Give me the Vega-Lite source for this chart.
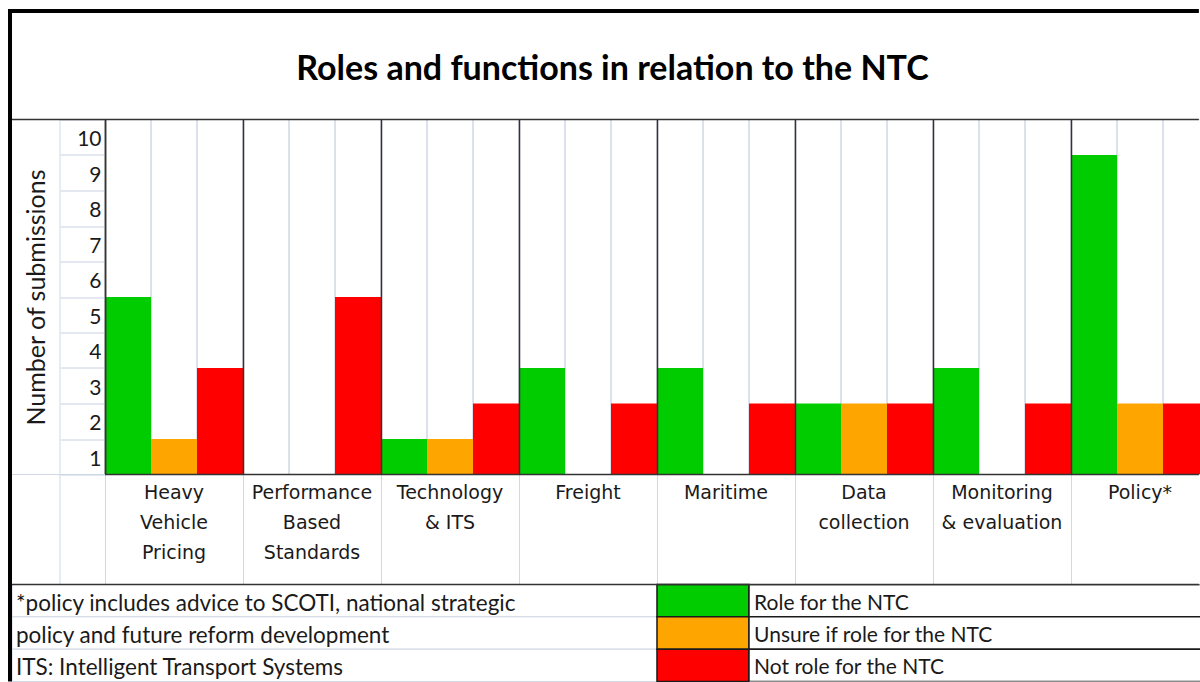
{
  "$schema": "https://vega.github.io/schema/vega-lite/v6.json",
  "padding": {"left": 5, "top": 6.5, "right": 0, "bottom": 0},
  "background": "white",
  "spacing": 110,
  "bounds": "flush",
  "config": {"view": {"stroke": null}, "font": "Lato"},
  "vconcat": [
    {
      "width": 1095,
      "height": 355,
      "title": {
        "text": "Roles and functions in relation to the NTC",
        "anchor": "middle",
        "frame": "group",
        "dx": -40,
        "offset": 5,
        "baseline": "alphabetic",
        "font": "Lato",
        "fontSize": 34,
        "fontWeight": "bold",
        "color": "#000000"
      },
      "data": {
        "values": [
          {"category": "Heavy Vehicle Pricing", "status": "Role for the NTC", "value": 5},
          {"category": "Heavy Vehicle Pricing", "status": "Unsure if role for the NTC", "value": 1},
          {"category": "Heavy Vehicle Pricing", "status": "Not role for the NTC", "value": 3},
          {"category": "Performance Based Standards", "status": "Role for the NTC", "value": 0},
          {"category": "Performance Based Standards", "status": "Unsure if role for the NTC", "value": 0},
          {"category": "Performance Based Standards", "status": "Not role for the NTC", "value": 5},
          {"category": "Technology & ITS", "status": "Role for the NTC", "value": 1},
          {"category": "Technology & ITS", "status": "Unsure if role for the NTC", "value": 1},
          {"category": "Technology & ITS", "status": "Not role for the NTC", "value": 2},
          {"category": "Freight", "status": "Role for the NTC", "value": 3},
          {"category": "Freight", "status": "Unsure if role for the NTC", "value": 0},
          {"category": "Freight", "status": "Not role for the NTC", "value": 2},
          {"category": "Maritime", "status": "Role for the NTC", "value": 3},
          {"category": "Maritime", "status": "Unsure if role for the NTC", "value": 0},
          {"category": "Maritime", "status": "Not role for the NTC", "value": 2},
          {"category": "Data collection", "status": "Role for the NTC", "value": 2},
          {"category": "Data collection", "status": "Unsure if role for the NTC", "value": 2},
          {"category": "Data collection", "status": "Not role for the NTC", "value": 2},
          {"category": "Monitoring & evaluation", "status": "Role for the NTC", "value": 3},
          {"category": "Monitoring & evaluation", "status": "Unsure if role for the NTC", "value": 0},
          {"category": "Monitoring & evaluation", "status": "Not role for the NTC", "value": 2},
          {"category": "Policy*", "status": "Role for the NTC", "value": 9},
          {"category": "Policy*", "status": "Unsure if role for the NTC", "value": 2},
          {"category": "Policy*", "status": "Not role for the NTC", "value": 2}
        ]
      },
      "encoding": {
        "x": {
          "field": "category",
          "type": "nominal",
          "sort": null,
          "scale": {"paddingInner": 0, "paddingOuter": 0, "range": [0, 1104]},
          "axis": {
            "title": null,
            "zindex": 1,
            "grid": true,
            "gridColor": "#333333",
            "gridWidth": 1.5,
            "bandPosition": 0,
            "domain": false,
            "ticks": true,
            "tickSize": 110,
            "tickColor": "#d0d7e5",
            "tickWidth": 1,
            "labelPadding": -101,
            "labelBaseline": "top",
            "labelAlign": "center",
            "labelAngle": 0,
            "labelLineHeight": 30,
            "labelFont": "DejaVu Sans",
            "labelFontSize": 19,
            "labelColor": "#1a1a1a",
            "labelBound": false,
            "labelOverlap": false,
            "labelFlush": false,
            "labelExpr": "datum.value == 'Technology & ITS' ? ['Technology', '& ITS'] : datum.value == 'Monitoring & evaluation' ? ['Monitoring', '& evaluation'] : split(datum.value, ' ')"
          }
        },
        "xOffset": {
          "field": "status",
          "type": "nominal",
          "scale": {
            "domain": ["Role for the NTC", "Unsure if role for the NTC", "Not role for the NTC"],
            "paddingInner": 0,
            "paddingOuter": 0
          }
        }
      },
      "layer": [
        {
          "mark": {"type": "rect", "fill": null, "stroke": "#d0d7e5", "strokeWidth": 1, "clip": true},
          "encoding": {
            "y": {
              "datum": 0,
              "type": "quantitative",
              "scale": {"domain": [0, 10], "nice": false},
              "axis": {
                "title": "Number of submissions",
                "zindex": 1,
                "values": [0, 1, 2, 3, 4, 5, 6, 7, 8, 9, 10],
                "labelExpr": "datum.value == 0 ? '' : datum.label",
                "labelOverlap": false,
                "grid": false,
                "tickSize": 45,
                "tickColor": "#c8d0e0",
                "tickWidth": 1,
                "domainColor": "#333333",
                "domainWidth": 1.5,
                "labelPadding": -41,
                "labelOffset": 20,
                "labelFont": "Lato",
                "labelFontSize": 21,
                "labelAlign": "right",
                "labelBaseline": "middle",
                "labelColor": "#1a1a1a",
                "titleFont": "Lato",
                "titleFontSize": 25,
                "titleFontWeight": "normal",
                "titleColor": "#1a1a1a",
                "titlePadding": 15,
                "titleBaseline": "alphabetic"
              }
            },
            "y2": {"datum": 10}
          }
        },
        {
          "mark": {"type": "bar", "clip": true},
          "encoding": {
            "y": {
              "field": "value",
              "type": "quantitative",
              "scale": {"domain": [0, 10], "nice": false},
              "axis": {
                "title": "Number of submissions",
                "zindex": 1,
                "values": [0, 1, 2, 3, 4, 5, 6, 7, 8, 9, 10],
                "labelExpr": "datum.value == 0 ? '' : datum.label",
                "labelOverlap": false,
                "grid": false,
                "tickSize": 45,
                "tickColor": "#c8d0e0",
                "tickWidth": 1,
                "domainColor": "#333333",
                "domainWidth": 1.5,
                "labelPadding": -41,
                "labelOffset": 20,
                "labelFont": "Lato",
                "labelFontSize": 21,
                "labelAlign": "right",
                "labelBaseline": "middle",
                "labelColor": "#1a1a1a",
                "titleFont": "Lato",
                "titleFontSize": 25,
                "titleFontWeight": "normal",
                "titleColor": "#1a1a1a",
                "titlePadding": 15,
                "titleBaseline": "alphabetic"
              }
            },
            "color": {
              "field": "status",
              "type": "nominal",
              "scale": {
                "domain": ["Role for the NTC", "Unsure if role for the NTC", "Not role for the NTC"],
                "range": ["#00cc00", "#ffa500", "#ff0000"]
              },
              "legend": null
            }
          }
        }
      ]
    },
    {
      "width": 1095,
      "height": 97,
      "data": {
        "values": [
          {"status": "Role for the NTC", "note": "*policy includes advice to SCOTI, national strategic"},
          {"status": "Unsure if role for the NTC", "note": "\u00a0policy and future reform development"},
          {"status": "Not role for the NTC", "note": "ITS: Intelligent Transport Systems"}
        ]
      },
      "encoding": {
        "x": {"type": "quantitative", "scale": {"domain": [0, 24], "range": [0, 1104], "nice": false, "zero": false}, "axis": null}
      },
      "layer": [
        {
          "encoding": {
            "y": {
              "field": "status",
              "type": "nominal",
              "sort": ["Role for the NTC", "Unsure if role for the NTC", "Not role for the NTC"],
              "scale": {"paddingInner": 0, "paddingOuter": 0},
              "axis": null
            }
          },
          "layer": [
            {
              "mark": {"type": "rect", "fill": "white", "stroke": "#d0d7e5", "strokeWidth": 1},
              "encoding": {"x": {"datum": -2.022, "type": "quantitative"}, "x2": {"datum": 12}}
            },
            {
              "mark": {"type": "text", "align": "left", "baseline": "middle", "dy": 3, "font": "Lato", "fontSize": 22.5, "color": "#1a1a1a"},
              "encoding": {"x": {"datum": -1.935, "type": "quantitative"}, "text": {"field": "note"}}
            },
            {
              "mark": {"type": "rect", "stroke": "#1a1a1a", "strokeWidth": 1.5},
              "encoding": {
                "x": {"datum": 12, "type": "quantitative"},
                "x2": {"datum": 14},
                "color": {"field": "status", "type": "nominal", "legend": null}
              }
            },
            {
              "mark": {"type": "rect", "fill": "white", "stroke": "#1a1a1a", "strokeWidth": 1.5, "clip": true},
              "encoding": {"x": {"datum": 14, "type": "quantitative"}, "x2": {"datum": 24.5}}
            },
            {
              "mark": {"type": "text", "align": "left", "baseline": "middle", "dy": 3, "font": "Lato", "fontSize": 21, "color": "#1a1a1a"},
              "encoding": {"x": {"datum": 14.11, "type": "quantitative"}, "text": {"field": "status"}}
            }
          ]
        },
        {
          "data": {"values": [{}]},
          "encoding": {
            "y": {"type": "quantitative", "scale": {"domain": [0, 3], "reverse": true, "nice": false, "zero": false}, "axis": null}
          },
          "layer": [
            {
              "mark": {"type": "rule", "color": "#d0d7e5", "strokeWidth": 1},
              "encoding": {"x": {"datum": -0.978, "type": "quantitative"}, "y": {"datum": -14.381}, "y2": {"datum": 0}}
            },
            {
              "mark": {"type": "rule", "color": "#d0d7e5", "strokeWidth": 1},
              "encoding": {"x": {"datum": -2.022, "type": "quantitative"}, "x2": {"datum": 0}, "y": {"datum": -3.402}}
            },
            {
              "mark": {"type": "rule", "color": "#333333", "strokeWidth": 1.5},
              "encoding": {"x": {"datum": 0, "type": "quantitative"}, "x2": {"datum": 23.78}, "y": {"datum": -3.402}}
            },
            {
              "mark": {"type": "rule", "color": "#333333", "strokeWidth": 1.5},
              "encoding": {"x": {"datum": -2.022, "type": "quantitative"}, "x2": {"datum": 23.78}, "y": {"datum": -14.381}}
            },
            {
              "mark": {"type": "rule", "color": "#333333", "strokeWidth": 1.5},
              "encoding": {"x": {"datum": -2.022, "type": "quantitative"}, "x2": {"datum": 23.78}, "y": {"datum": 0}}
            },
            {
              "mark": {"type": "rule", "color": "#000000", "strokeWidth": 4},
              "encoding": {"x": {"datum": -2.109, "type": "quantitative"}, "x2": {"datum": 23.78}, "y": {"datum": -17.737}}
            },
            {
              "mark": {"type": "rule", "color": "#000000", "strokeWidth": 4},
              "encoding": {"x": {"datum": -2.065, "type": "quantitative"}, "y": {"datum": -17.799}, "y2": {"datum": 3}}
            }
          ]
        }
      ],
      "resolve": {"scale": {"y": "independent"}}
    }
  ]
}
